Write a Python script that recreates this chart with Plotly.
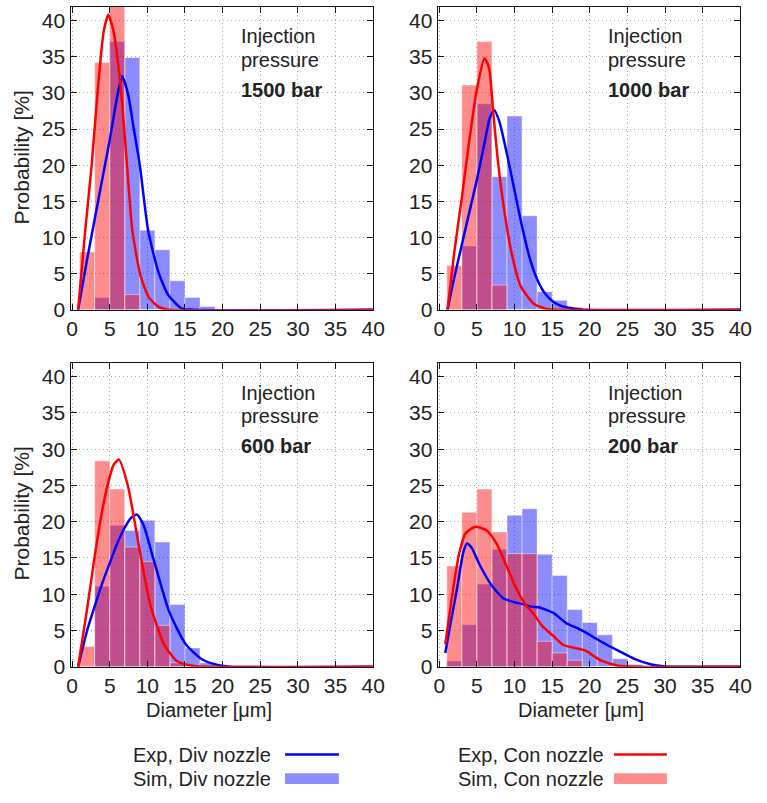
import plotly.graph_objects as go
from plotly.subplots import make_subplots

W, H = 767, 803
FONT = "Liberation Sans, Arial, sans-serif"
TXT = "#222222"

bin_centers = [2, 4, 6, 8, 10, 12, 14, 16, 18, 20, 22, 24, 26]
pressures = ["1500 bar", "1000 bar", "600 bar", "200 bar"]

# Simulated histograms (probability %)
sim_div_1500 = [0, 1.7, 37.1, 34.9, 11.0, 8.3, 4.0, 1.7, 0.45, 0, 0, 0, 0]
sim_con_1500 = [8.0, 34.2, 42.5, 2.1, 0, 0, 0, 0, 0, 0, 0, 0, 0]
sim_div_1000 = [0, 8.8, 28.5, 18.4, 26.8, 13.0, 2.5, 1.3, 0.35, 0, 0, 0, 0]
sim_con_1000 = [6.1, 31.1, 37.1, 3.4, 0, 0, 0, 0, 0, 0, 0, 0, 0]
sim_div_600 = [0, 11.1, 19.5, 18.8, 20.2, 17.2, 8.6, 2.6, 0.55, 0, 0, 0, 0]
sim_con_600 = [2.8, 28.4, 24.5, 16.5, 14.5, 5.7, 0.55, 0, 0, 0, 0, 0, 0]
sim_div_200 = [0.8, 5.8, 11.4, 16.2, 20.9, 21.8, 15.5, 12.6, 7.9, 6.1, 4.4, 1.1, 0.3]
sim_con_200 = [13.9, 21.3, 24.5, 18.6, 15.6, 15.6, 3.5, 1.9, 0.9, 0, 0, 0, 0]

exp_div_1500_x = [0.8, 2, 3, 4, 5, 6, 6.65, 7.4, 8.2, 9, 10.1, 11.5, 12.8, 14.5, 16, 40]
exp_div_1500_y = [0, 7, 12.5, 18, 23.5, 29.5, 32.3, 30, 25, 20, 11, 5.1, 2, 0.2, 0, 0]
exp_con_1500_x = [0.8, 1.75, 2.6, 3.5, 4.2, 4.8, 5.4, 6.4, 7.3, 8.0, 9.1, 10.2, 11.5, 13, 40]
exp_con_1500_y = [0, 11, 20, 31.5, 38.5, 40.8, 39, 31.5, 20, 11, 4.7, 1.7, 0.4, 0, 0]

exp_div_1000_x = [1.1, 2, 3, 4, 5, 6, 6.7, 7.3, 8, 9, 10, 11, 12, 13, 14, 15, 16, 17, 19, 40]
exp_div_1000_y = [0, 4.5, 9, 13.5, 18, 23, 26.5, 27.6, 26, 21.5, 16.5, 11.5, 7.2, 4.2, 2.3, 1.2, 0.6, 0.3, 0, 0]
exp_con_1000_x = [1.1, 2, 3, 4, 5, 6, 6.6, 7.2, 7.8, 8.7, 9.6, 10.8, 12.6, 14.3, 16, 40]
exp_con_1000_y = [0, 8, 15.5, 23.5, 30.5, 34.8, 33.5, 27, 20.5, 13.3, 7.9, 3.3, 0.8, 0.1, 0, 0]

exp_div_600_x = [0.8, 2, 2.9, 4, 4.9, 6, 6.9, 7.8, 8.6, 9.5, 10.8, 12.9, 15.1, 17.3, 19.5, 21, 40]
exp_div_600_y = [0, 5, 8, 11.5, 14, 17, 19, 20.5, 21, 19.5, 14.9, 7.6, 3.1, 1.0, 0.2, 0, 0]
exp_con_600_x = [0.8, 2, 2.9, 3.9, 4.8, 5.5, 6.2, 7.4, 8.7, 9.6, 10.4, 11.4, 12.2, 13.9, 16.2, 18, 40]
exp_con_600_y = [0, 8, 14.5, 21, 25.4, 27.8, 28.6, 25, 17.7, 12.5, 8.5, 5.3, 3.1, 0.8, 0.1, 0, 0]

exp_div_200_x = [0.8, 1.5, 2.3, 3.2, 3.7, 4.3, 5.4, 6.9, 8.5, 10, 11.3, 12.1, 13.2, 14.3, 15.2, 16.9,
                 18.6, 19.5, 20.8, 22.3, 23.8, 26, 28.2, 30, 32, 40]
exp_div_200_y = [1.9, 6, 10.4, 15.8, 17, 16.4, 14, 11.3, 9.45, 8.9, 8.6, 8.3, 8.2, 7.8, 7.4, 6,
                 5.2, 4.7, 3.9, 3, 2.2, 1.05, 0.3, 0.05, 0, 0]
exp_con_200_x = [0.8, 1.6, 2.6, 3.5, 4.8, 6.3, 7.6, 8.9, 10, 11.3, 12.6, 13.7, 15.2, 16.5, 18,
                 19.5, 20.5, 21.6, 23.8, 26, 40]
exp_con_200_y = [3.1, 9, 15.4, 18.4, 19.3, 18.8, 17, 14, 11.3, 8.8, 7.2, 5.6, 4.2, 3.0, 2.6,
                 2.2, 1.5, 0.8, 0.15, 0, 0]

panels = [
    (sim_div_1500, sim_con_1500, exp_div_1500_x, exp_div_1500_y, exp_con_1500_x, exp_con_1500_y),
    (sim_div_1000, sim_con_1000, exp_div_1000_x, exp_div_1000_y, exp_con_1000_x, exp_con_1000_y),
    (sim_div_600, sim_con_600, exp_div_600_x, exp_div_600_y, exp_con_600_x, exp_con_600_y),
    (sim_div_200, sim_con_200, exp_div_200_x, exp_div_200_y, exp_con_200_x, exp_con_200_y),
]

BLUE_BAR = "rgba(0,0,255,0.45)"
RED_BAR = "rgba(255,0,0,0.45)"
BLUE = "#0000ff"
RED = "#ff0000"
EDGE = "rgba(255,255,255,0.45)"

fig = make_subplots(rows=2, cols=2)
pos = [(1, 1), (1, 2), (2, 1), (2, 2)]
for (r, c), (sd, sc, dx, dy, cx, cy) in zip(pos, panels):
    fig.add_trace(go.Scatter(x=dx, y=dy, mode="lines", line=dict(color=BLUE, width=2.5, shape="spline", smoothing=0.6),
                             showlegend=False), row=r, col=c)
    fig.add_trace(go.Bar(x=bin_centers, y=sd, width=2, marker=dict(color=BLUE_BAR, line=dict(color=EDGE, width=1)),
                         showlegend=False), row=r, col=c)
    fig.add_trace(go.Bar(x=bin_centers, y=sc, width=2, marker=dict(color=RED_BAR, line=dict(color=EDGE, width=1)),
                         showlegend=False), row=r, col=c)
    fig.add_trace(go.Scatter(x=cx, y=cy, mode="lines", line=dict(color=RED, width=2.5, shape="spline", smoothing=0.6),
                             showlegend=False), row=r, col=c)

# Panel pixel boxes (left, right, top, bottom)
boxes = [(68, 377, 7, 314), (443, 752, 7, 314), (68, 377, 368, 676), (443, 752, 368, 676)]
axis_common = dict(showline=True, linecolor="#111111", linewidth=1.3, mirror="ticks",
                   ticks="inside", ticklen=6, tickcolor="#111111", tickwidth=1.3,
                   showgrid=True, gridcolor="#a8a8a8", griddash="1px,3px", gridwidth=1,
                   zeroline=False, tickfont=dict(family=FONT, size=21, color=TXT))
for i, (l, rgt, t, b) in enumerate(boxes):
    sfx = "" if i == 0 else str(i + 1)
    fig.layout["xaxis" + sfx].update(domain=[l / W, rgt / W], range=[-0.2, 40], tickvals=list(range(0, 41, 5)),
                                     **axis_common)
    fig.layout["yaxis" + sfx].update(domain=[1 - b / H, 1 - t / H], range=[0, 41.9], tickvals=list(range(0, 41, 5)),
                                     **axis_common)

annotations = []
for i, (l, rgt, t, b) in enumerate(boxes):
    xl = (l + 172) / W
    for txt, dy in [("Injection", 30), ("pressure", 54), ("<b>" + pressures[i] + "</b>", 84)]:
        annotations.append(dict(x=xl, y=1 - (t + dy) / H, xref="paper", yref="paper", text=txt,
                                showarrow=False, xanchor="left", yanchor="middle",
                                font=dict(family=FONT, size=20, color=TXT)))

# axis titles
for cx in [209, 589]:
    annotations.append(dict(x=cx / W, y=1 - 720 / H, xref="paper", yref="paper", text="Diameter [μm]",
                            showarrow=False, xanchor="center", yanchor="middle",
                            font=dict(family=FONT, size=20, color=TXT)))
for cy in [160, 521]:
    annotations.append(dict(x=18 / W, y=1 - cy / H, xref="paper", yref="paper", text="Probability [%]",
                            showarrow=False, xanchor="center", yanchor="middle", textangle=-90,
                            font=dict(family=FONT, size=21, color=TXT)))

# legend (text left of symbol)
legend_items = [
    ("Exp, Div nozzle", 275, 765, "line", BLUE, 287, 342),
    ("Sim, Div nozzle", 275, 790, "rect", BLUE_BAR, 287, 342),
    ("Exp, Con nozzle", 615, 765, "line", RED, 623, 677),
    ("Sim, Con nozzle", 615, 790, "rect", RED_BAR, 623, 677),
]
shapes = []
for txt, tx, ty, kind, col, x0, x1 in legend_items:
    annotations.append(dict(x=tx / W, y=1 - ty / H, xref="paper", yref="paper", text=txt,
                            showarrow=False, xanchor="right", yanchor="middle",
                            font=dict(family=FONT, size=20, color=TXT)))
    if kind == "line":
        shapes.append(dict(type="line", xref="paper", yref="paper", x0=x0 / W, x1=x1 / W,
                           y0=1 - ty / H, y1=1 - ty / H, line=dict(color=col, width=2.5)))
    else:
        shapes.append(dict(type="rect", xref="paper", yref="paper", x0=x0 / W, x1=x1 / W,
                           y0=1 - (ty + 5) / H, y1=1 - (ty - 6) / H, fillcolor=col, line=dict(width=0)))

fig.update_layout(width=W, height=H, margin=dict(l=0, r=0, t=0, b=0), barmode="overlay",
                  plot_bgcolor="white", paper_bgcolor="white", showlegend=False,
                  annotations=annotations, shapes=shapes, font=dict(family=FONT, color=TXT))
fig.write_html("out.html")
